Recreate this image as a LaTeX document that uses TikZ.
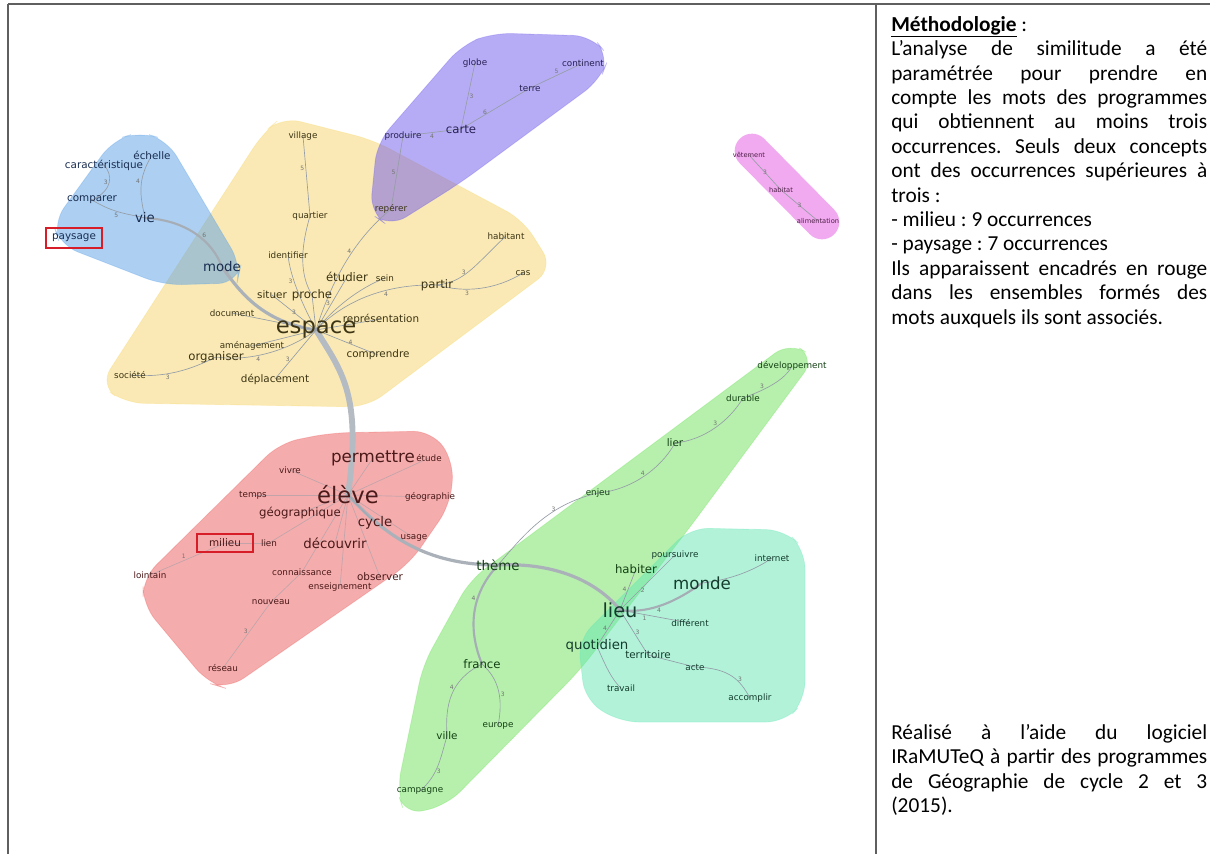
\documentclass[tikz,border=0pt]{standalone}
\usepackage{fontspec}
\setmainfont{Carlito}
\newfontfamily\gfont{DejaVu Sans}
\frenchspacing
\definecolor{hullblue}{RGB}{90,160,230}
\definecolor{hullyel}{RGB}{245,212,105}
\definecolor{hullpur}{RGB}{110,90,235}
\definecolor{hullpink}{RGB}{230,100,225}
\definecolor{hullred}{RGB}{235,90,90}
\definecolor{hullgreen}{RGB}{110,225,90}
\definecolor{hullmint}{RGB}{100,230,180}
\definecolor{txblue}{RGB}{25,45,80}
\definecolor{txyel}{RGB}{60,52,20}
\definecolor{txpur}{RGB}{40,32,85}
\definecolor{txpink}{RGB}{75,30,70}
\definecolor{txred}{RGB}{75,25,25}
\definecolor{txgreen}{RGB}{20,65,20}
\definecolor{txmint}{RGB}{20,60,45}
\definecolor{edgegray}{RGB}{150,158,168}
\definecolor{boxred}{RGB}{215,30,40}
\definecolor{framegray}{RGB}{95,95,95}
\pgfdeclarelayer{hulls}
\pgfdeclarelayer{links}
\pgfsetlayers{hulls,links,main}

\begin{document}
\begin{tikzpicture}[x=0.75pt,y=0.75pt,yscale=-1,xscale=1,
  every node/.style={inner sep=0pt},
  hull/.style={rounded corners=14pt, fill opacity=0.5, draw opacity=0.3, line width=0.6pt},
  w0/.style={font=\gfont\fontsize{6.6}{7}\selectfont},
  w1/.style={font=\gfont\fontsize{7.8}{8}\selectfont},
  w2/.style={font=\gfont\fontsize{8.8}{9}\selectfont},
  w3/.style={font=\gfont\fontsize{10}{11}\selectfont},
  w4/.style={font=\gfont\fontsize{12.5}{13}\selectfont},
  w5/.style={font=\gfont\fontsize{17}{18}\selectfont},
  wt/.style={font=\gfont\fontsize{4.5}{5}\selectfont, text=black!55},
  lk/.style={draw=edgegray, line width=0.5pt},
  lk2/.style={draw=edgegray!85, line width=1.6pt},
  lk3/.style={draw=edgegray!80, line width=2.4pt},
  lk4/.style={draw=edgegray!70, line width=4.4pt},
  boxed/.style={draw=boxred, line width=1.5pt, minimum width=42pt, minimum height=15pt},
  panel/.style={anchor=north west, text width=237pt, align=justify, font=\fontsize{16}{18.3}\selectfont},
]
\useasboundingbox (0,0) rectangle (1210,854);

% frame of the table
\draw[framegray, line width=1.1pt] (8,4) -- (1210,4);
\draw[framegray, line width=1.1pt] (8,4) -- (8,854);
\draw[framegray, line width=1.1pt] (876,4) -- (876,854);

% hulls of the communities
\begin{pgfonlayer}{hulls}
\filldraw[hull, fill=hullyel, draw=hullyel] (282,117) -- (373,140) -- (523,220) -- (553,268) -- (367,407) -- (125,403) -- (100,385) -- (263,133) -- cycle;
\filldraw[hull, fill=hullblue, draw=hullblue] (53,223) -- (113,140) -- (140,132) -- (167,140) -- (241,265) -- (237,283) -- (163,285) -- (60,245) -- cycle;
\filldraw[hull, fill=hullpur, draw=hullpur] (370,213) -- (377,143) -- (462,45) -- (493,33) -- (592,36) -- (609,57) -- (600,80) -- (460,183) -- (390,227) -- cycle;
\draw[line width=26pt, line cap=round, draw=hullpink, draw opacity=0.55] (752,151) -- (822,222);
\filldraw[hull, fill=hullred, draw=hullred] (143,578) -- (280,443) -- (330,433) -- (432,431) -- (454,462) -- (450,505) -- (410,563) -- (228,689) -- (208,683) -- (143,605) -- cycle;
\filldraw[hull, fill=hullgreen, draw=hullgreen] (790,342) -- (815,358) -- (690,527) -- (580,670) -- (447,805) -- (405,815) -- (397,790) -- (423,665) -- (470,580) -- cycle;
\filldraw[hull, fill=hullmint, draw=hullmint] (578,640) -- (585,700) -- (620,722) -- (785,722) -- (805,700) -- (805,550) -- (785,530) -- (690,528) -- cycle;
\end{pgfonlayer}

% blue words
\begin{scope}[every node/.append style={text=txblue}]
\node[w1] (caract) at (104,165) {caractéristique};
\node[w1] (echelle) at (152,155) {échelle};
\node[w1] (comparer) at (92,200) {comparer};
\node[w3] (vie) at (145,218) {vie};
\node[w1, boxed] (paysage) at (74,238) {paysage};
\node[w3] (mode) at (222,267) {mode};
\end{scope}

% yellow words
\begin{scope}[every node/.append style={text=txyel}]
\node[w0] (village) at (303,136) {village};
\node[w0] (quartier) at (310,216) {quartier};
\node[w0] (identifier) at (288,255) {identifier};
\node[w2] (etudier) at (347,277) {étudier};
\node[w0] (sein) at (385,278) {sein};
\node[w2] (partir) at (437,285) {partir};
\node[w0] (habitant) at (506,236) {habitant};
\node[w0] (cas) at (523,273) {cas};
\node[w1] (situer) at (272,295) {situer};
\node[w2] (proche) at (312,295) {proche};
\node[w0] (document) at (232,313) {document};
\node[w5] (espace) at (316,330) {espace};
\node[w1] (repres) at (381,319) {représentation};
\node[w0] (amenag) at (252,346) {aménagement};
\node[w2] (organiser) at (216,357) {organiser};
\node[w1] (comprendre) at (378,355) {comprendre};
\node[w0] (societe) at (130,375) {société};
\node[w1] (deplac) at (275,379) {déplacement};
\node[w0] (reperer) at (391,209) {repérer};
\end{scope}

% purple words
\begin{scope}[every node/.append style={text=txpur}]
\node[w0] (globe) at (475,63) {globe};
\node[w0] (continent) at (583,63) {continent};
\node[w0] (terre) at (530,88) {terre};
\node[w2] (carte) at (461,129) {carte};
\node[w0] (produire) at (403,136) {produire};
\end{scope}

% pink words
\begin{scope}[every node/.append style={text=txpink, font=\gfont\fontsize{5}{6}\selectfont}]
\node (vetement) at (749,155) {vêtement};
\node (habitat) at (781,190) {habitat};
\node (aliment) at (818,221) {alimentation};
\end{scope}

% red words
\begin{scope}[every node/.append style={text=txred}]
\node[w4] (permettre) at (373,458) {permettre};
\node[w0] (etude) at (429,458) {étude};
\node[w0] (vivre) at (290,470) {vivre};
\node[w0] (temps) at (253,495) {temps};
\node[w5] (eleve) at (348,495) {élève};
\node[w0] (geographie) at (430,497) {géographie};
\node[w2] (geographique) at (300,513) {géographique};
\node[w3] (cycle) at (375,523) {cycle};
\node[w1, boxed, minimum height=14pt] (milieu) at (225,543) {milieu};
\node[w0] (lien) at (269,543) {lien};
\node[w3] (decouvrir) at (335,543) {découvrir};
\node[w0] (usage) at (414,538) {usage};
\node[w0] (lointain) at (150,575) {lointain};
\node[w0] (connaiss) at (302,572) {connaissance};
\node[w1] (observer) at (380,577) {observer};
\node[w0] (enseign) at (340,587) {enseignement};
\node[w0] (nouveau) at (271,602) {nouveau};
\node[w0] (reseau) at (223,668) {réseau};
\end{scope}

% green words
\begin{scope}[every node/.append style={text=txgreen}]
\node[w0] (developp) at (792,366) {développement};
\node[w0] (durable) at (743,398) {durable};
\node[w1] (lier) at (675,443) {lier};
\node[w0] (enjeu) at (598,493) {enjeu};
\node[w3] (theme) at (498,565) {thème};
\node[w2] (france) at (482,664) {france};
\node[w0] (europe) at (498,726) {europe};
\node[w1] (ville) at (447,736) {ville};
\node[w0] (campagne) at (420,791) {campagne};
\node[w2] (habiter) at (636,569) {habiter};
\end{scope}

% mint words
\begin{scope}[every node/.append style={text=txmint}]
\node[w0] (poursuivre) at (675,555) {poursuivre};
\node[w0] (internet) at (772,558) {internet};
\node[w4] (monde) at (702,583) {monde};
\node[font=\gfont\fontsize{14.5}{15}\selectfont] (lieu) at (620,610) {lieu};
\node[w0] (different) at (690,623) {différent};
\node[w3] (quotidien) at (597,646) {quotidien};
\node[w1] (territoire) at (648,655) {territoire};
\node[w0] (acte) at (695,667) {acte};
\node[w0] (accomplir) at (750,698) {accomplir};
\node[w0] (travail) at (621,688) {travail};
\end{scope}

% links
\begin{pgfonlayer}{links}
\draw[lk4] (espace.center) .. controls (342,372) and (362,395) .. (eleve.center);
\draw[lk3] (eleve.center) .. controls (385,535) and (425,565) .. (theme.center);
\draw[lk3] (theme.center) .. controls (560,562) and (600,585) .. (lieu.center);
\draw[lk3] (mode.center) .. controls (240,292) and (262,322) .. (espace.center);
\draw[lk2] (vie.center) .. controls (185,220) and (212,240) .. node[wt, pos=.55, right=2pt]{6} (mode.center);
\draw[lk] (vie.center) .. controls (130,214) and (115,214) .. node[wt, pos=.6, below=1pt]{5} (comparer.center);
\draw[lk] (vie.center) .. controls (140,195) and (137,180) .. node[wt, pos=.6, left=1pt]{4} (echelle.center);
\draw[lk] (comparer.center) .. controls (113,190) and (113,175) .. node[wt, pos=.5, left=1pt]{3} (caract.center);
% yellow
\draw[lk] (village.center) -- node[wt, pos=.4, left=1pt]{5} (quartier.center);
\draw[lk] (quartier.center) .. controls (300,250) and (300,275) .. (proche.center);
\draw[lk] (espace.center) .. controls (300,300) and (290,275) .. node[wt, pos=.6, left=1pt]{3} (identifier.center);
\draw[lk] (espace.center) -- node[wt, pos=.5]{3} (situer.center);
\draw[lk] (espace.center) -- (proche.center);
\draw[lk] (espace.center) -- (document.center);
\draw[lk] (espace.center) -- node[wt, pos=.5, left=1pt]{3} (etudier.center);
\draw[lk] (espace.center) .. controls (335,270) and (360,235) .. node[wt, pos=.55, left=1pt]{4} (reperer.center);
\draw[lk] (espace.center) .. controls (345,295) and (375,282) .. (sein.center);
\draw[lk] (espace.center) .. controls (350,295) and (395,284) .. node[wt, pos=.6, below=1pt]{4} (partir.center);
\draw[lk] (partir.center) .. controls (465,282) and (475,265) .. node[wt, pos=.45, left=1pt]{3} (habitant.center);
\draw[lk] (partir.center) .. controls (465,293) and (495,290) .. node[wt, pos=.35, below=1pt]{3} (cas.center);
\draw[lk] (espace.center) -- (repres.center);
\draw[lk] (espace.center) -- node[wt, pos=.5, right=1pt]{4} (comprendre.center);
\draw[lk] (espace.center) -- (amenag.center);
\draw[lk] (espace.center) .. controls (290,350) and (250,362) .. node[wt, pos=.6, below=1pt]{4} (organiser.center);
\draw[lk] (espace.center) -- node[wt, pos=.6, left=1pt]{3} (deplac.center);
\draw[lk] (organiser.center) .. controls (190,370) and (165,378) .. node[wt, pos=.6, below=1pt]{3} (societe.center);
% purple
\draw[lk] (reperer.center) -- node[wt, pos=.5, left=1pt]{5} (produire.center);
\draw[lk] (produire.center) -- node[wt, pos=.5, below=1pt]{4} (carte.center);
\draw[lk] (carte.center) -- node[wt, pos=.4, left=1pt]{6} (terre.center);
\draw[lk] (carte.center) -- node[wt, pos=.5, right=1pt]{3} (globe.center);
\draw[lk] (terre.center) -- node[wt, pos=.5, above=1pt]{5} (continent.center);
% pink
\draw[lk] (vetement.center) -- node[wt, pos=.5]{3} (habitat.center);
\draw[lk] (habitat.center) -- node[wt, pos=.5]{3} (aliment.center);
% red
\begin{scope}[every path/.append style={draw opacity=0.55}]
\draw[lk] (eleve.center) -- (permettre.center);
\draw[lk] (eleve.center) -- (etude.center);
\draw[lk] (eleve.center) -- (vivre.center);
\draw[lk] (eleve.center) -- (temps.center);
\draw[lk] (eleve.center) -- (geographie.center);
\draw[lk] (eleve.center) -- (geographique.center);
\draw[lk] (eleve.center) -- (cycle.center);
\draw[lk] (eleve.center) -- (usage.center);
\draw[lk] (eleve.center) -- (decouvrir.center);
\draw[lk] (eleve.center) -- (lien.center);
\draw[lk] (eleve.center) -- (connaiss.center);
\draw[lk] (eleve.center) -- (observer.center);
\draw[lk] (eleve.center) -- (enseign.center);
\draw[lk] (connaiss.center) -- (nouveau.center);
\draw[lk] (nouveau.center) -- node[wt, pos=.45, left=1pt]{3} (reseau.center);
\draw[lk] (milieu.center) -- node[wt, pos=.55, above=1pt]{1} (lointain.center);
\draw[lk] (lien.center) -- (milieu.center);
\end{scope}
% green
\draw[lk2] (theme.center) .. controls (470,595) and (468,630) .. node[wt, pos=.35, left=1pt]{4} (france.center);
\draw[lk] (france.center) .. controls (450,680) and (445,705) .. node[wt, pos=.4, left=1pt]{4} (ville.center);
\draw[lk] (ville.center) .. controls (440,760) and (438,775) .. node[wt, pos=.6, right=1pt]{3} (campagne.center);
\draw[lk] (france.center) .. controls (500,680) and (503,700) .. node[wt, pos=.55, right=1pt]{3} (europe.center);
\draw[lk] (theme.center) .. controls (520,540) and (545,505) .. node[wt, pos=.7, left=1pt]{3} (enjeu.center);
\draw[lk] (enjeu.center) .. controls (630,490) and (660,470) .. node[wt, pos=.5, above=1pt]{4} (lier.center);
\draw[lk] (lier.center) .. controls (705,440) and (730,420) .. node[wt, pos=.5, above=1pt]{3} (durable.center);
\draw[lk] (durable.center) .. controls (765,390) and (785,380) .. node[wt, pos=.3, above=1pt]{3} (developp.center);
% mint
\draw[lk] (lieu.center) -- node[wt, pos=.5, left=1pt]{4} (habiter.center);
\draw[lk] (lieu.center) -- node[wt, pos=.35, right=1pt]{2} (poursuivre.center);
\draw[lk2] (lieu.center) .. controls (655,615) and (685,595) .. node[wt, pos=.4, below=1pt]{4} (monde.center);
\draw[lk] (monde.center) .. controls (730,580) and (755,570) .. (internet.center);
\draw[lk] (lieu.center) -- node[wt, pos=.35, below=1pt]{1} (different.center);
\draw[lk] (lieu.center) -- node[wt, pos=.5, left=1pt]{4} (quotidien.center);
\draw[lk] (lieu.center) -- node[wt, pos=.5, right=1pt]{3} (territoire.center);
\draw[lk] (territoire.center) -- (acte.center);
\draw[lk] (acte.center) .. controls (730,668) and (740,680) .. node[wt, pos=.6, right=1pt]{3} (accomplir.center);
\draw[lk] (quotidien.center) .. controls (605,665) and (612,680) .. (travail.center);
\end{pgfonlayer}

% side panel
\node[panel] (method) at (891,16) {\underline{\textbf{Méthodologie}} :\\
L’analyse de similitude a été\linebreak
paramétrée pour prendre en\linebreak
compte les mots des programmes\linebreak
qui obtiennent au moins trois\linebreak
occurrences. Seuls deux concepts\linebreak
ont des occurrences supérieures à\linebreak
trois :\\
- milieu : 9 occurrences\\
- paysage : 7 occurrences\\
Ils apparaissent encadrés en rouge\linebreak
dans les ensembles formés des\linebreak
mots auxquels ils sont associés.};
\node[panel] (credit) at (891,724) {Réalisé à l’aide du logiciel\linebreak
IRaMUTeQ à partir des programmes\linebreak
de Géographie de cycle 2 et 3\linebreak
(2015).};
\end{tikzpicture}
\end{document}
